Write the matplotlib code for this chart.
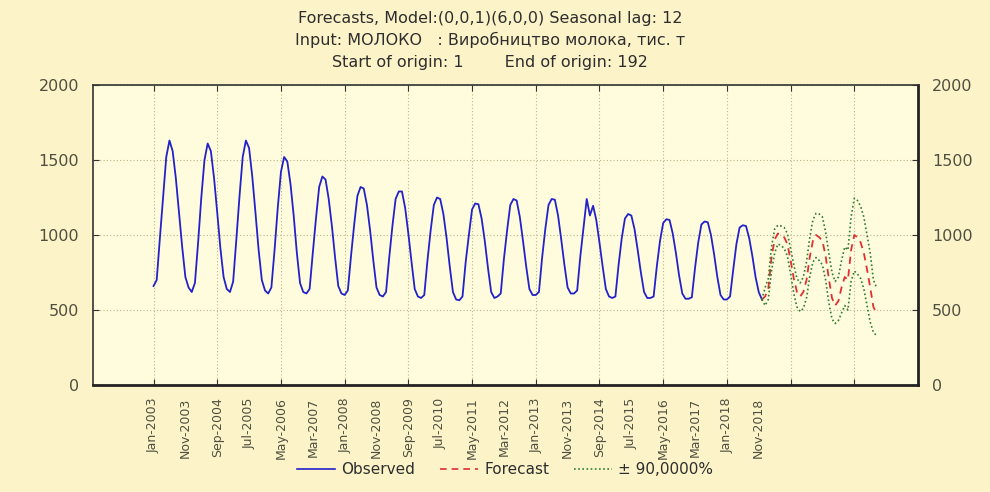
import matplotlib
matplotlib.use("Agg")
import matplotlib.pyplot as plt
from matplotlib.lines import Line2D
import numpy as np

plt.rcParams['font.family'] = ['DejaVu Sans']

# Observed monthly milk production, Jan-2003 .. Dec-2018 (192 values)
obs_2003 = [660, 700, 980, 1250, 1520, 1630, 1560, 1380, 1150, 920, 720, 650]
obs_2004 = [620, 680, 950, 1250, 1500, 1610, 1560, 1380, 1150, 910, 720, 640]
obs_2005 = [620, 690, 970, 1260, 1520, 1630, 1580, 1390, 1150, 900, 700, 630]
obs_2006 = [610, 650, 900, 1180, 1420, 1520, 1490, 1340, 1130, 880, 680, 620]
obs_2007 = [610, 640, 880, 1110, 1320, 1390, 1370, 1240, 1060, 850, 660, 610]
obs_2008 = [600, 630, 860, 1070, 1260, 1320, 1310, 1200, 1030, 830, 650, 600]
obs_2009 = [590, 620, 850, 1060, 1240, 1290, 1290, 1180, 1010, 820, 640, 590]
obs_2010 = [580, 600, 830, 1030, 1200, 1250, 1240, 1140, 980, 790, 620, 570]
obs_2011 = [565, 590, 820, 1000, 1170, 1210, 1205, 1110, 960, 780, 620, 580]
obs_2012 = [590, 610, 840, 1030, 1200, 1240, 1230, 1120, 960, 790, 640, 600]
obs_2013 = [600, 620, 850, 1040, 1200, 1240, 1235, 1130, 970, 800, 650, 610]
obs_2014 = [610, 630, 860, 1050, 1240, 1130, 1195, 1100, 950, 790, 640, 590]
obs_2015 = [580, 590, 800, 980, 1110, 1140, 1130, 1040, 900, 750, 620, 580]
obs_2016 = [580, 590, 790, 960, 1080, 1105, 1100, 1010, 880, 730, 610, 575]
obs_2017 = [575, 585, 780, 950, 1070, 1090, 1085, 1000, 870, 720, 600, 570]
obs_2018 = [570, 590, 770, 940, 1050, 1065, 1060, 980, 860, 720, 620, 570]
observed = (obs_2003 + obs_2004 + obs_2005 + obs_2006 + obs_2007 + obs_2008 +
            obs_2009 + obs_2010 + obs_2011 + obs_2012 + obs_2013 + obs_2014 +
            obs_2015 + obs_2016 + obs_2017 + obs_2018)

# Forecast (36 months) and 90% bounds
forecast = [590, 640, 850, 970, 1010, 1000, 985, 940, 830, 710, 620, 590,
            620, 700, 850, 960, 1000, 985, 960, 860, 710, 580, 530, 560,
            650, 720, 700, 900, 1000, 985, 950, 880, 770, 650, 520, 480]
upper = [650, 710, 920, 1040, 1065, 1060, 1050, 1010, 910, 800, 710, 680,
         720, 820, 980, 1100, 1145, 1140, 1120, 1020, 880, 750, 690, 720,
         830, 920, 900, 1120, 1245, 1230, 1190, 1120, 1000, 880, 700, 650]
lower = [530, 570, 760, 880, 940, 930, 910, 860, 740, 610, 520, 490,
         510, 580, 720, 820, 850, 830, 800, 700, 550, 440, 410, 430,
         480, 530, 500, 690, 760, 740, 710, 640, 530, 420, 350, 330]

tick_labels = ['Jan-2003', 'Nov-2003', 'Sep-2004', 'Jul-2005', 'May-2006',
               'Mar-2007', 'Jan-2008', 'Nov-2008', 'Sep-2009', 'Jul-2010',
               'May-2011', 'Mar-2012', 'Jan-2013', 'Nov-2013', 'Sep-2014',
               'Jul-2015', 'May-2016', 'Mar-2017', 'Jan-2018', 'Nov-2018']

title_lines = ['Forecasts, Model:(0,0,1)(6,0,0) Seasonal lag: 12',
               'Input: МОЛОКО   : Виробництво молока, тис. т',
               'Start of origin: 1        End of origin: 192']

fig_bg = '#FCF3C9'
ax_bg = '#FFFCDE'
txt = '#2e2e2e'
tick_txt = '#505040'

fig = plt.figure(figsize=(9.9, 4.92), dpi=100, facecolor=fig_bg)
ax = fig.add_axes([93/990, 1-385/492, (918-93)/990, (385-85)/492], facecolor=ax_bg)

n_obs = len(observed)
x_obs = np.arange(n_obs)
x_fc = np.arange(n_obs - 1, n_obs - 1 + len(forecast) + 1)
last = observed[-1]

ax.plot(x_obs, observed, color='#2222C8', lw=1.3, zorder=3)
ax.plot(x_fc, [last] + forecast, color='#E03030', lw=1.3, ls=(0, (4, 3)), zorder=4)
ax.plot(x_fc, [last] + upper, color='#2E7D2E', lw=1.2, ls=(0, (1, 1.5)), zorder=4)
ax.plot(x_fc, [last] + lower, color='#2E7D2E', lw=1.2, ls=(0, (1, 1.5)), zorder=4)

ax.set_xlim(-19, 240)
ax.set_ylim(0, 2000)

# major ticks (grid) every 20 months, labels every 10 months
ax.xaxis.remove_overlapping_locs = False
ax.set_xticks(np.arange(0, 240, 20))
ax.set_xticklabels([])
ax.set_xticks(np.arange(0, 10 * len(tick_labels), 10), minor=True)
ax.set_xticklabels(tick_labels, minor=True, rotation=90, fontsize=9, color=tick_txt)
ax.tick_params(axis='x', which='major', direction='in', length=4, top=True, color='#333333')
ax.tick_params(axis='x', which='minor', length=0, pad=9)

ax.set_yticks([0, 500, 1000, 1500, 2000])
ax.tick_params(axis='y', which='both', direction='in', length=4, left=True, right=True,
               labelleft=True, labelright=True, labelsize=11.5, labelcolor=tick_txt,
               pad=10, color='#333333')
ax.grid(True, which='major', axis='both', color='#BDB58A', ls=(0, (1, 2)), lw=0.8)

for s in ['left', 'top']:
    ax.spines[s].set_linewidth(1.2)
    ax.spines[s].set_color('#333333')
for s in ['right', 'bottom']:
    ax.spines[s].set_linewidth(2.0)
    ax.spines[s].set_color('#222222')

for i, line in enumerate(title_lines):
    fig.text(490/990, 1 - (18 + 22 * i)/492, line, ha='center', va='center',
             fontsize=11.5, color=txt)

handles = [Line2D([], [], color='#2222C8', lw=1.2),
           Line2D([], [], color='#E03030', lw=1.2, ls=(0, (4, 3))),
           Line2D([], [], color='#2E7D2E', lw=1.2, ls=(0, (1, 1.5)))]
fig.legend(handles, ['Observed', 'Forecast', '± 90,0000%'], loc='center',
           bbox_to_anchor=(505/990, 1 - 470/492), ncol=3, frameon=False,
           fontsize=11, handlelength=2.5, handletextpad=0.4, columnspacing=1.6,
           labelcolor=txt)

fig.savefig('out.png', dpi=100, facecolor=fig_bg)
